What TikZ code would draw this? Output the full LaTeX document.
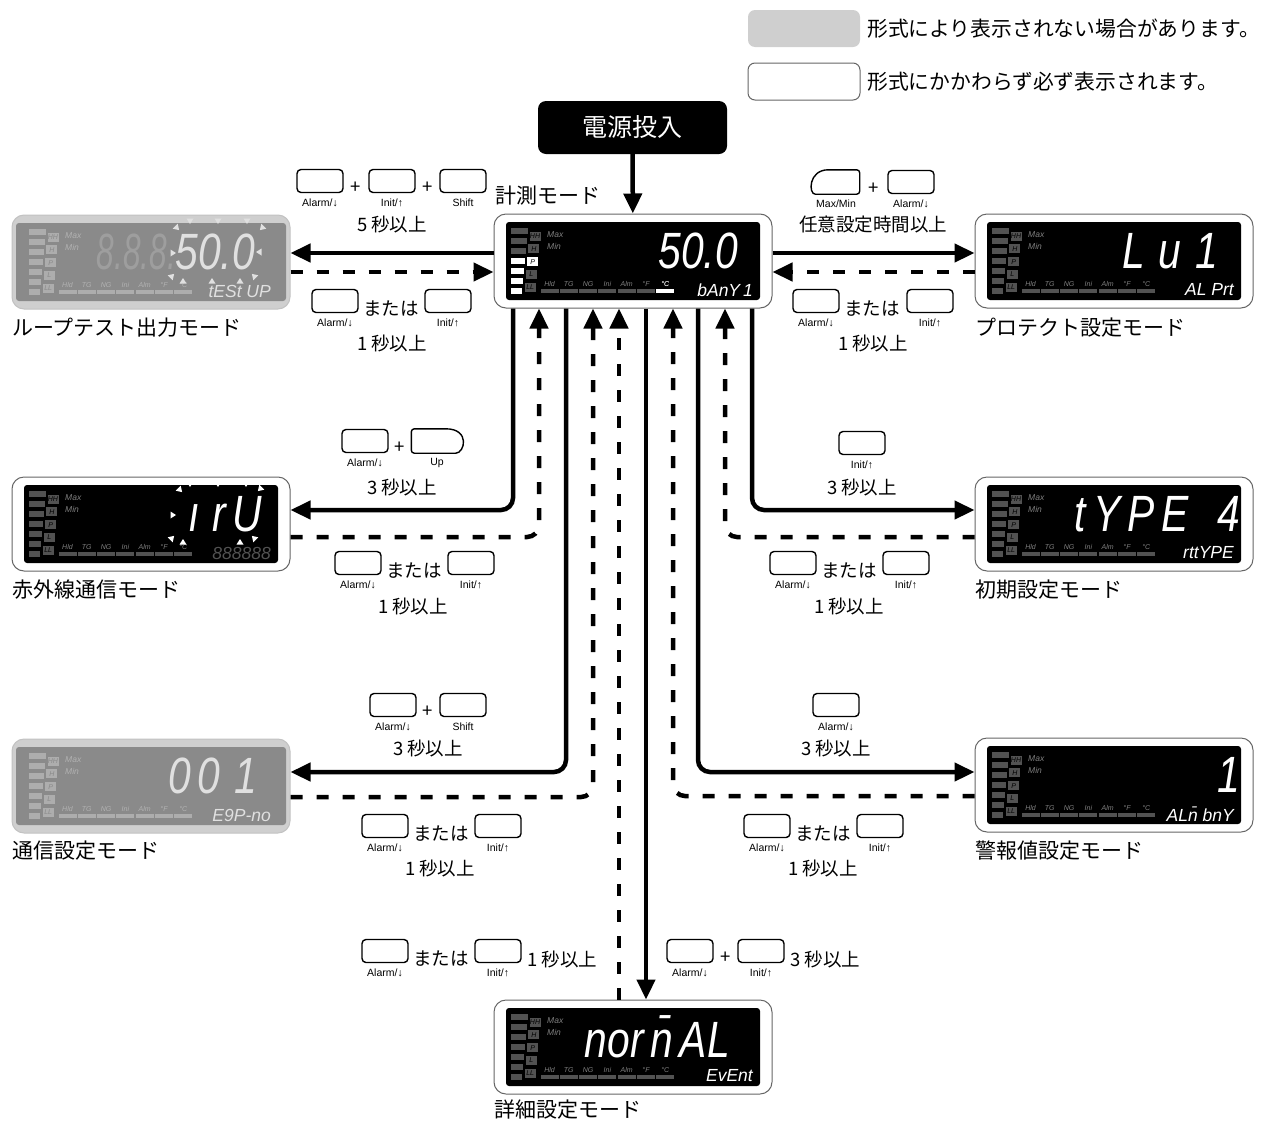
\documentclass[tikz,border=0pt]{standalone}
\usepackage{fontspec}
\usepackage{graphicx}
\setmainfont{Noto Sans CJK JP}
\newfontfamily\segfont{Liberation Sans}
\newfontfamily\tagfont{Liberation Sans}
\usetikzlibrary{arrows.meta,positioning}

\tikzset{
  lcd on/.code={\def\lcdin{12}\colorlet{lcdrim}{white}\colorlet{lcdedge}{black!60}%
    \colorlet{lcdbg}{black}\colorlet{lcdseg}{white}\colorlet{lcddim}{black!68}\colorlet{lcdtxt}{black!50}},
  lcd off/.code={\def\lcdin{4}\colorlet{lcdrim}{black!19}\colorlet{lcdedge}{black!24}%
    \colorlet{lcdbg}{black!46}\colorlet{lcdseg}{black!12}\colorlet{lcddim}{black!32}\colorlet{lcdtxt}{black!30}},
}

% display: scheme, name, x, y, right edge of digits, digits, sub line
\newcommand{\lcd}[7]{%
  \begin{scope}[shift={(#3,#4)}, lcd #1]
    \node[lcdframe] (#2) at (139,47) {};
    \fill[lcdbg, rounded corners=3pt] (\lcdin,8) rectangle ({278-\lcdin},86);
    \foreach \i in {0,...,6}
      \fill[lcddim] (17,{14+\i*10}) rectangle ({34-\i},{20+\i*10});
    \foreach \lab [count=\i from 0] in {HH,H,P,L,LL}
      \node[lcdtiny, fill=lcddim, text=lcdbg, minimum width=11pt, minimum height=9pt] (#2ind\i) at ({41-\i*1.2},{22+\i*12.8}) {\lab};
    \node[lcdtiny, text=lcdtxt, anchor=west, font=\segfont\itshape\fontsize{8.5}{9}\selectfont] (#2max) at (53,21) {Max};
    \node[lcdtiny, text=lcdtxt, anchor=west, font=\segfont\itshape\fontsize{8.5}{9}\selectfont] (#2min) at (53,32) {Min};
    \foreach \lab [count=\i from 0] in {Hld,TG,NG,Ini,Alm,°F,°C}{
      \fill[lcddim] ({46.5+\i*19.3},75) rectangle ({64.5+\i*19.3},78.5);
      \node[lcdtiny, text=lcdtxt] (#2tag\i) at ({55.5+\i*19.3},70) {\lab};
    }
    \node[lcdbig] (#2big) at (#5,37) {\scalebox{0.8}[1]{#6}};
    \node[lcdsmall] (#2sub) at (259,76) {#7};
  \end{scope}}

\newcommand{\keybtn}[4]{%
  \node[keycap] (#1) at (#2,#3) {};
  \node[keytag, below=5pt of #1] (#1tag) {#4};}

\newcommand{\blink}[3]{%
  \fill[rotate around={#3:(#1,#2)}] ({#1-3.5},{#2-2.5}) -- ({#1+3.5},{#2-2.5}) -- (#1,{#2+3}) -- cycle;}

\begin{document}
\begin{tikzpicture}[x=1pt, y=-1pt,
    lcdframe/.style={draw=lcdedge, fill=lcdrim, line width=1pt, rounded corners=12pt, minimum width=278pt, minimum height=94pt, inner sep=0pt},
    lcdbig/.style={font=\segfont\itshape\fontsize{51}{51}\selectfont, text=lcdseg, inner sep=0pt, anchor=east},
    lcdsmall/.style={font=\segfont\itshape\fontsize{17.5}{18}\selectfont, text=lcdseg, inner sep=0pt, anchor=east},
    lcdtiny/.style={font=\segfont\itshape\fontsize{7}{8}\selectfont, inner sep=0pt},
    keycap/.style={draw, line width=1.4pt, rounded corners=4pt, minimum width=46pt, minimum height=23pt, inner sep=0pt},
    keyline/.style={line width=1.4pt, line join=round},
    keytag/.style={font=\tagfont\fontsize{10.5}{11}\selectfont, inner sep=0pt},
    joiner/.style={font=\fontsize{18.5}{20}\selectfont, inner sep=0pt},
    hold/.style={font=\fontsize{18.5}{20}\selectfont, inner sep=0pt},
    modename/.style={font=\fontsize{21}{24}\selectfont, inner sep=0pt, anchor=west},
    legbox/.style={rounded corners=7pt, minimum width=112pt, minimum height=37pt, inner sep=0pt},
    flow/.style={line width=4.5pt, rounded corners=12pt, -{Triangle[length=20pt,width=18pt]}},
    back/.style={flow, dash pattern=on 12pt off 14pt}
]
\useasboundingbox (0,0) rectangle (1261,1122);

% legend
\node[legbox, fill=black!19] (legoff) at (804,28.5) {};
\node[modename, font=\fontsize{20.8}{22}\selectfont] (legofftext) at (867,29) {形式により表示されない場合があります。};
\node[legbox, fill=white, draw=black!60, line width=1pt] (legon) at (804,81.5) {};
\node[modename, font=\fontsize{20.8}{22}\selectfont] (legontext) at (867,82) {形式にかかわらず必ず表示されます。};

% power on
\node[fill=black, text=white, rounded corners=8pt, minimum width=189pt, minimum height=53pt, font=\fontsize{25}{28}\selectfont] (power) at (632.5,127.5) {電源投入};

% displays
\lcd{on}{meas}{494}{214}{244}{50.0}{bAnY\,1}
\lcd{off}{loop}{12}{215}{243}{50.0}{tESt UP}
\lcd{on}{protect}{975}{214}{243}{L\,\,u\,\,1}{AL Prt}
\lcd{on}{irda}{12}{477}{250}{ı\hspace{16pt}r\hspace{8pt}U}{\textcolor{lcddim}{888888}}
\lcd{on}{init}{975}{477}{265}{t\,Y\,P\,E\hspace{36pt}4}{rttYPE}
\lcd{on}{alarm}{975}{738}{265}{1}{AL\=n bnY}
\lcd{off}{comm}{12}{739}{245}{0\,0\,\,1}{E9P-no}
\lcd{on}{detail}{494}{1000}{236}{nor\,\=n\,AL}{EvEnt}

% lit segments of the measuring display
\begin{scope}[shift={(494,214)}]
  \foreach \i in {3,...,6}
    \fill[white] (17,{14+\i*10}) rectangle ({34-\i},{20+\i*10});
  \node[lcdtiny, fill=white, text=black, minimum width=11pt, minimum height=9pt] (measP) at (38.6,47.6) {P};
  \fill[white] (162.3,75) rectangle (180.3,78.5);
  \node[lcdtiny, text=white] (measC) at (171.3,70) {°C};
\end{scope}

% unused digits and blinking marks
\node[lcdbig, text=black!38] (loopghost) at (176,252) {\scalebox{0.62}[1]{8.8.8.}};
\begin{scope}[fill=black!12]
  \foreach \bx in {190,218,247}{\blink{\bx}{221}{0}}
  \foreach \bx in {183,212,240}{\blink{\bx}{281}{180}}
  \blink{177}{228}{45} \blink{262}{228}{-45}
  \blink{173}{253}{90} \blink{259}{252}{-90}
  \blink{172}{276}{135} \blink{254}{276}{-135}
\end{scope}
\begin{scope}[fill=white]
  \foreach \bx in {190,218,246}{\blink{\bx}{484}{0}}
  \foreach \bx in {183,240}{\blink{\bx}{542}{180}}
  \blink{180}{490}{45} \blink{260}{489}{-45}
  \blink{173}{515}{90}
  \blink{172}{538}{135} \blink{254}{538}{-135}
\end{scope}

% mode names
\node[modename] (measname) at (495,196) {計測モード};
\node[modename] (loopname) at (12,328) {ループテスト出力モード};
\node[modename] (protectname) at (975,328) {プロテクト設定モード};
\node[modename] (irdaname) at (12,590) {赤外線通信モード};
\node[modename] (initname) at (975,590) {初期設定モード};
\node[modename] (commname) at (12,851) {通信設定モード};
\node[modename] (alarmname) at (975,851) {警報値設定モード};
\node[modename] (detailname) at (494,1110) {詳細設定モード};

% connectors
\draw[flow] (power) -- (meas);
\draw[flow] ([yshift=8pt]meas.west) -- ([yshift=8pt]meas.west -| loop.east);
\draw[back] ([yshift=-11pt]meas.west -| loop.east) -- ([yshift=-11pt]meas.west);
\draw[flow] ([yshift=8pt]meas.east) -- ([yshift=8pt]meas.east -| protect.west);
\draw[back] ([yshift=-11pt]meas.east -| protect.west) -- ([yshift=-11pt]meas.east);
\draw[flow] ([xshift=-120pt]meas.south) |- ([yshift=14pt]irda.east);
\draw[back] ([yshift=-13pt]irda.east) -| ([xshift=-94pt]meas.south);
\draw[flow] ([xshift=-67pt]meas.south) |- ([yshift=14pt]comm.east);
\draw[back] ([yshift=-11pt]comm.east) -| ([xshift=-40pt]meas.south);
\draw[back] ([xshift=-14pt]detail.north) -- ([xshift=-14pt]meas.south);
\draw[flow] ([xshift=13pt]meas.south) -- ([xshift=13pt]detail.north);
\draw[back] ([yshift=-11pt]alarm.west) -| ([xshift=40pt]meas.south);
\draw[flow] ([xshift=65pt]meas.south) |- ([yshift=13pt]alarm.west);
\draw[back] ([yshift=-13pt]init.west) -| ([xshift=92pt]meas.south);
\draw[flow] ([xshift=119pt]meas.south) |- ([yshift=14pt]init.west);

% keys: measuring -> loop test
\keybtn{kA1}{320}{181}{Alarm/↓}
\node[joiner] (jA1) at (356,188) {+};
\keybtn{kA2}{392}{181}{Init/↑}
\node[joiner] (jA2) at (428,188) {+};
\keybtn{kA3}{463}{181}{Shift}
\node[hold] (hA) at (392,225) {5 秒以上};
\keybtn{kB1}{335}{301}{Alarm/↓}
\node[joiner] (jB) at (391,309) {または};
\keybtn{kB2}{448}{301}{Init/↑}
\node[hold] (hB) at (392,344) {1 秒以上};

% keys: measuring -> protect
\node[keycap, draw=none] (kC1) at (836,182) {};
\node[keytag, below=5pt of kC1] (kC1tag) {Max/Min};
\draw[keyline] ([xshift=16pt]kC1.north west) [rounded corners=3pt] -- (kC1.north east) -- (kC1.south east) -- ([xshift=6pt]kC1.south west) [sharp corners] .. controls ([xshift=-4pt]kC1.south west) and ([xshift=-4pt]kC1.north west) .. ([xshift=16pt]kC1.north west);
\node[joiner] (jC) at (874,189) {+};
\keybtn{kC2}{911}{182}{Alarm/↓}
\node[hold] (hC) at (873,225) {任意設定時間以上};
\keybtn{kD1}{816}{301}{Alarm/↓}
\node[joiner] (jD) at (872,309) {または};
\keybtn{kD2}{930}{301}{Init/↑}
\node[hold] (hD) at (873,344) {1 秒以上};

% keys: measuring -> infrared
\keybtn{kE1}{365}{441}{Alarm/↓}
\node[joiner] (jE) at (400,448) {+};
\node[keycap, draw=none, minimum width=50pt] (kE2) at (437,441) {};
\node[keytag, below=5pt of kE2] (kE2tag) {Up};
\draw[keyline] ([xshift=-7pt]kE2.south east) [rounded corners=3pt] -- (kE2.south west) -- (kE2.north west) -- ([xshift=-20pt]kE2.north east) [sharp corners] .. controls ([xshift=8pt]kE2.north east) and ([xshift=2pt]kE2.south east) .. ([xshift=-7pt]kE2.south east);
\node[hold] (hE) at (402,487) {3 秒以上};
\keybtn{kF1}{358}{563}{Alarm/↓}
\node[joiner] (jF) at (414,571) {または};
\keybtn{kF2}{471}{563}{Init/↑}
\node[hold] (hF) at (413,606) {1 秒以上};

% keys: measuring -> initial
\keybtn{kG1}{862}{443}{Init/↑}
\node[hold] (hG) at (862,487) {3 秒以上};
\keybtn{kH1}{793}{563}{Alarm/↓}
\node[joiner] (jH) at (849,571) {または};
\keybtn{kH2}{906}{563}{Init/↑}
\node[hold] (hH) at (849,606) {1 秒以上};

% keys: measuring -> communication
\keybtn{kI1}{393}{705}{Alarm/↓}
\node[joiner] (jI) at (428,712) {+};
\keybtn{kI2}{463}{705}{Shift}
\node[hold] (hI) at (428,748) {3 秒以上};
\keybtn{kJ1}{385}{826}{Alarm/↓}
\node[joiner] (jJ) at (441,834) {または};
\keybtn{kJ2}{498}{826}{Init/↑}
\node[hold] (hJ) at (440,868) {1 秒以上};

% keys: measuring -> alarm value
\keybtn{kK1}{836}{705}{Alarm/↓}
\node[hold] (hK) at (836,748) {3 秒以上};
\keybtn{kL1}{767}{826}{Alarm/↓}
\node[joiner] (jL) at (823,834) {または};
\keybtn{kL2}{880}{826}{Init/↑}
\node[hold] (hL) at (823,868) {1 秒以上};

% keys: measuring -> detail
\keybtn{kM1}{385}{951}{Alarm/↓}
\node[joiner] (jM) at (441,959) {または};
\keybtn{kM2}{498}{951}{Init/↑}
\node[hold, anchor=west] (hM) at (527,959) {1 秒以上};
\keybtn{kN1}{690}{951}{Alarm/↓}
\node[joiner] (jN) at (726,958) {+};
\keybtn{kN2}{761}{951}{Init/↑}
\node[hold, anchor=west] (hN) at (790,959) {3 秒以上};
\end{tikzpicture}
\end{document}
